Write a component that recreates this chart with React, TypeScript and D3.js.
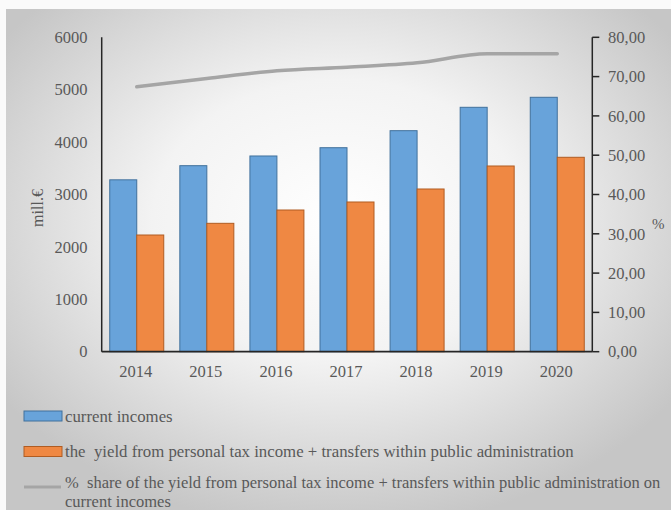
import React from "react";
import * as d3 from "d3";

const years = ["2014", "2015", "2016", "2017", "2018", "2019", "2020"];
const currentIncomes = [3280, 3550, 3735, 3893, 4218, 4664, 4855];
const yieldTax = [2227, 2450, 2704, 2857, 3105, 3544, 3710];
const sharePct = [67.4, 69.5, 71.5, 72.4, 73.5, 75.8, 75.8];
const leftTicks = [0, 1000, 2000, 3000, 4000, 5000, 6000];
const rightTicks = [0, 10, 20, 30, 40, 50, 60, 70, 80];
const legendLabels = [
  "current incomes",
  "the  yield from personal tax income + transfers within public administration",
  "%  share of the yield from personal tax income + transfers within public administration on",
  "current incomes",
];

const W = 671;
const H = 510;
const left = 101.7;
const right = 592.3;
const top = 37.3;
const bottom = 351.7;

const FONT = "Liberation Serif";
const TXT = "#595959";
const ts: React.CSSProperties = { fontFamily: FONT, whiteSpace: "pre" };
const BLUE = "#68a3da";
const BLUE_S = "#41719c";
const ORANGE = "#ef8843";
const ORANGE_S = "#b05c22";

export default function App() {
  const x0 = d3.scaleBand<string>().domain(years).range([left, right]).padding(0);
  const barW = 27;
  const yL = d3.scaleLinear().domain([0, 6000]).range([bottom, top]);
  const yR = d3.scaleLinear().domain([0, 80]).range([bottom, top]);
  const cx = (y: string) => (x0(y) as number) + x0.bandwidth() / 2;
  const line = d3
    .line<number>()
    .x((_, i) => cx(years[i]))
    .y((d) => yR(d))
    .curve(d3.curveMonotoneX);

  return (
    <svg
      width={W}
      height={H}
      style={{ position: "absolute", left: 0, top: 0, display: "block", fontFamily: FONT }}
    >
      <defs>
        <radialGradient id="bg" cx="50%" cy="42%" r="62%">
          <stop offset="0%" stopColor="#ffffff" />
          <stop offset="45%" stopColor="#f3f3f3" />
          <stop offset="100%" stopColor="#c6c6c6" />
        </radialGradient>
      </defs>
      <rect x={0} y={0} width={W} height={H} fill="#fafafa" />
      <rect x={6} y={9} width={W - 6} height={H - 9} fill="url(#bg)" />

      {years.map((yr, i) => {
        const c = cx(yr);
        return (
          <g key={yr}>
            <rect
              x={c - barW}
              y={yL(currentIncomes[i])}
              width={barW}
              height={bottom - yL(currentIncomes[i])}
              fill={BLUE}
              stroke={BLUE_S}
              strokeWidth={1}
            />
            <rect
              x={c}
              y={yL(yieldTax[i])}
              width={barW}
              height={bottom - yL(yieldTax[i])}
              fill={ORANGE}
              stroke={ORANGE_S}
              strokeWidth={1}
            />
          </g>
        );
      })}

      <path
        d={line(sharePct) || ""}
        fill="none"
        stroke="#a5a5a5"
        strokeWidth={3.5}
        strokeLinecap="round"
        strokeLinejoin="round"
      />

      <line x1={left} x2={left} y1={top} y2={bottom} stroke="#262626" strokeWidth={1.5} />
      <line x1={right} x2={right} y1={top} y2={bottom} stroke="#262626" strokeWidth={1.5} />
      <line x1={left} x2={right} y1={bottom} y2={bottom} stroke="#262626" strokeWidth={1.8} />

      {leftTicks.map((t) => (
        <text key={t} x={87.5} y={yL(t)} dy="0.35em" textAnchor="end" fontSize={16.5} fill={TXT} style={ts}>
          {t}
        </text>
      ))}
      {rightTicks.map((t) => (
        <g key={t}>
          <line x1={right} x2={right + 7} y1={yR(t)} y2={yR(t)} stroke="#262626" strokeWidth={1.5} />
          <text x={608} y={yR(t)} dy="0.35em" fontSize={16.5} fill={TXT} style={ts}>
            {d3.format(".2f")(t).replace(".", ",")}
          </text>
        </g>
      ))}
      {years.map((yr) => (
        <text key={yr} x={cx(yr) - 1} y={377} textAnchor="middle" fontSize={16.5} fill={TXT} style={ts}>
          {yr}
        </text>
      ))}

      <text transform="translate(43,208) rotate(-90)" textAnchor="middle" fontSize={16} fill={TXT} style={ts}>
        mill.€
      </text>
      <text x={652} y={229} fontSize={15} fill={TXT} style={ts}>
        %
      </text>

      <rect x={24} y={411} width={38} height={10} fill={BLUE} stroke={BLUE_S} strokeWidth={1} />
      <text x={65} y={421.5} fontSize={16.8} fill={TXT} style={ts}>
        {legendLabels[0]}
      </text>
      <rect x={24} y={446.5} width={38} height={10} fill={ORANGE} stroke={ORANGE_S} strokeWidth={1} />
      <text x={65} y={457} fontSize={16.8} fill={TXT} style={ts}>
        {legendLabels[1]}
      </text>
      <line x1={24} x2={61} y1={487} y2={487} stroke="#a5a5a5" strokeWidth={3} />
      <text x={65} y={488} fontSize={16.5} fill={TXT} style={ts}>
        {legendLabels[2]}
      </text>
      <text x={65} y={506.5} fontSize={16.5} fill={TXT} style={ts}>
        {legendLabels[3]}
      </text>
    </svg>
  );
}
